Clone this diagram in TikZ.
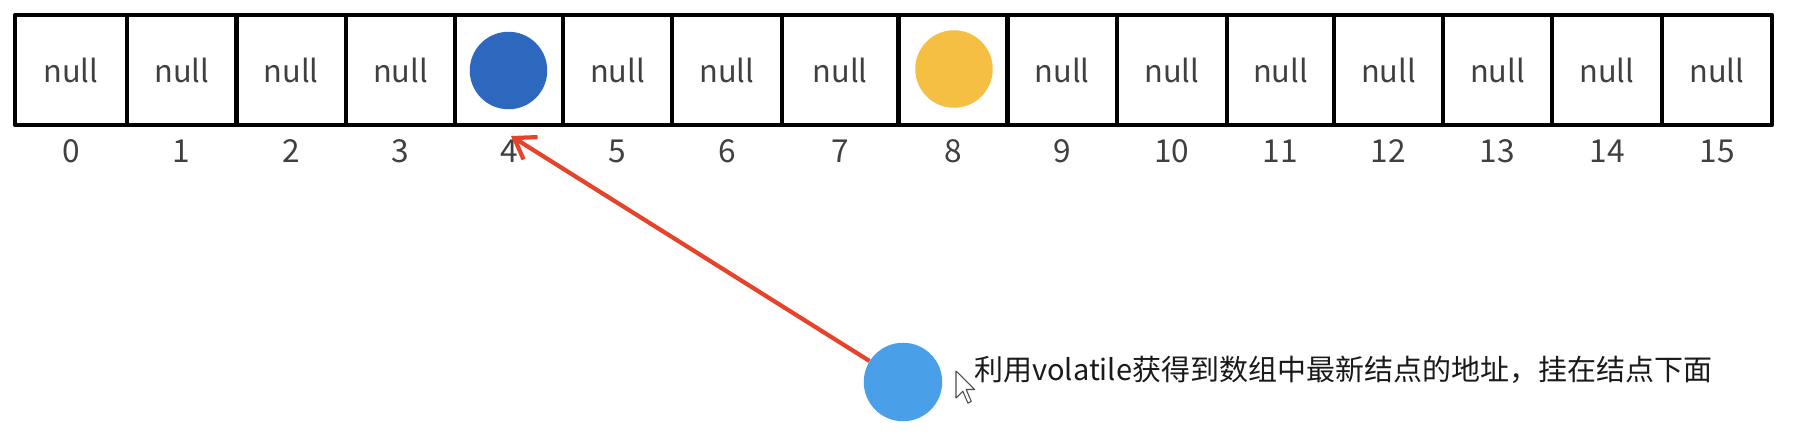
\documentclass[tikz,border=0pt]{standalone}
\usepackage{fontspec}
\newfontfamily\cjk{Noto Sans CJK SC}
\usetikzlibrary{arrows.meta}
\definecolor{nodeblue}{HTML}{2D67BE}
\definecolor{nodeyellow}{HTML}{F4BF42}
\definecolor{nodelight}{HTML}{4A9FE9}
\definecolor{arrowred}{HTML}{E6432B}
\definecolor{txtgray}{HTML}{404040}
\definecolor{notetxt}{HTML}{1A1A1A}
\begin{document}
\begin{tikzpicture}[x=0.02cm,y=-0.02cm,
  cellbox/.style={draw=black, line width=2.4pt, line join=round, rectangle,
    inner sep=0pt, outer sep=0pt, minimum height=2.2cm},
  nulltxt/.style={font=\cjk\fontsize{17.5}{20}\selectfont, text=txtgray, inner sep=0pt},
  idxtxt/.style={font=\cjk\fontsize{18}{20}\selectfont, text=txtgray, inner sep=0pt},
  entry/.style={circle, inner sep=0pt, draw=none, minimum size=1.55cm},
  ptr/.style={-{Straight Barb[length=11pt,width=15pt]}, line width=2.4pt, draw=arrowred},
  notestyle/.style={font=\cjk\fontsize{16.5}{20}\selectfont, text=notetxt, inner sep=0pt, anchor=west},
  cursorstyle/.style={draw=black!70, fill=white, line width=0.6pt, line join=round}]
\useasboundingbox (0,0) rectangle (1800,434);
\fill[white] (0,0) rectangle (1800,434);
\foreach \i/\a/\b in {0/15/127, 1/127/236.5, 2/236.5/346, 3/346/455, 4/455/563,
  5/563/672, 6/672/782, 7/782/898.5, 8/898.5/1007.6, 9/1007.6/1116.6,
  10/1116.6/1227, 11/1227/1334, 12/1334/1443, 13/1443/1552, 14/1552/1662, 15/1662/1772}{
  \node[cellbox, minimum width={(\b-\a)*0.02cm}] (cell\i) at ({(\a+\b)/2},70) {};
  \node[idxtxt] (d\i) at ({(\a+\b)/2},151) {\i};
}
\foreach \i in {0,1,2,3,5,6,7,9,10,11,12,13,14,15}{
  \node[nulltxt] (n\i) at (cell\i) {null};
}
\node[entry, fill=nodeblue] (e4) at (508.5,70.5) {};
\node[entry, fill=nodeyellow] (e8) at (954,69) {};
\node[entry, fill=nodelight, minimum size=1.57cm] (src) at (903,382) {};
\coordinate (tip) at (511,136);
\draw[ptr] (src) -- (tip);
\node[notestyle] (note) at (974,370) {利用volatile获得到数组中最新结点的地址，挂在结点下面};
\draw[cursorstyle] (956,371) -- ++(0,27) -- ++(6.8,-6.8) -- ++(5.1,11.9) -- ++(3.4,-1.7)
  -- ++(-5.1,-11.9) -- ++(8.5,0) -- cycle;
\end{tikzpicture}
\end{document}
